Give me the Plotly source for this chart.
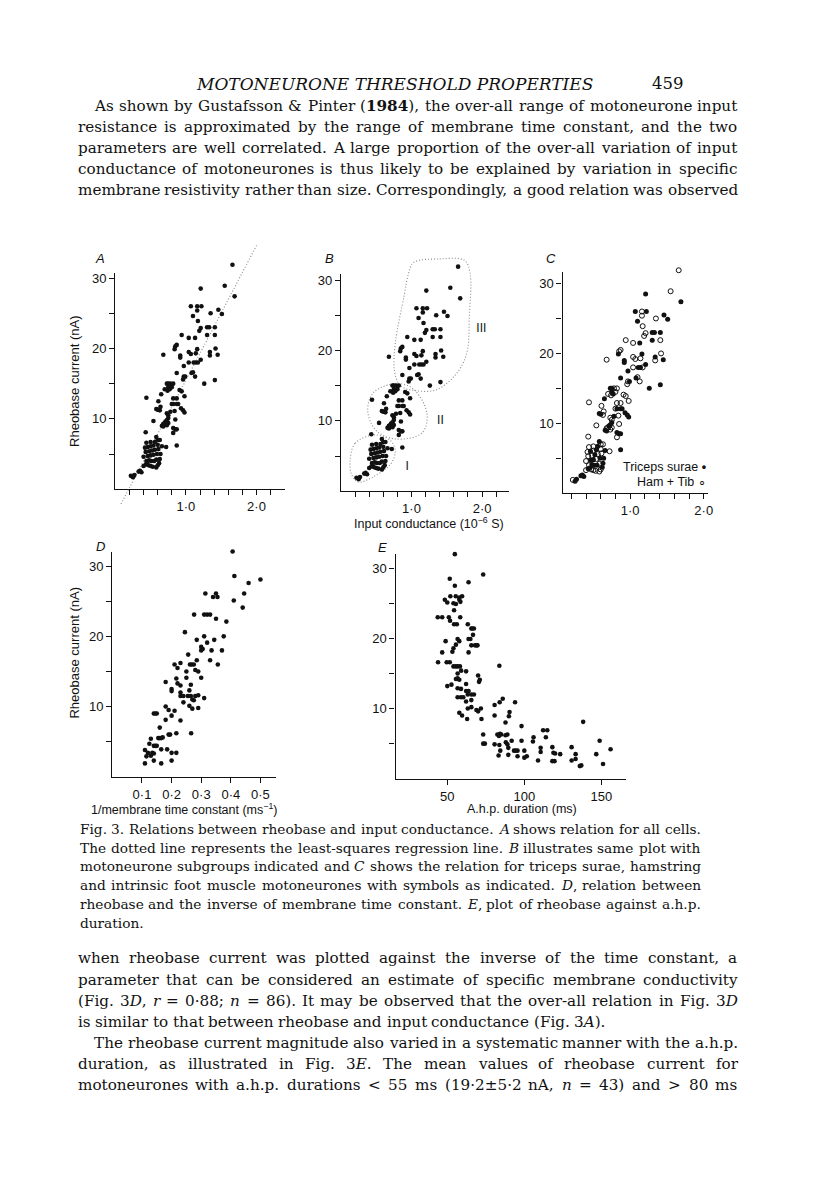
import glob
import re
import struct

import plotly.graph_objects as go

W, H = 816, 1203
OFF = 8  # default page margin of the html body

# ---------------- data: panels A, B, C (same cells) ----------------
# input conductance (10^-6 S), rheobase (nA), muscle group (1 = triceps surae, 0 = ham + tib)
cond = [1.66, 1.55, 1.69, 1.21, 1.07, 1.16, 1.22, 1.16, 1.10, 1.17, 1.35, 1.46, 1.51, 1.21, 1.30, 1.33,
        1.41, 1.19, 0.94, 1.04, 1.13, 1.30, 1.41, 1.42, 0.85, 0.87, 0.84, 1.04, 1.16, 1.14, 1.07, 1.34,
        1.34, 1.45, 0.68, 0.92, 0.92, 1.21, 1.04, 1.11, 1.14, 1.17, 0.97, 0.87, 1.10, 1.08, 1.13, 0.96,
        0.97, 0.99, 1.26, 1.41,
        0.73, 0.75, 0.78, 0.82, 0.75, 0.77, 0.80, 0.74, 0.70, 0.65, 0.91, 0.94, 0.98, 0.44, 0.61, 0.82,
        0.87, 0.82, 0.87, 0.89, 0.80, 0.93, 0.96, 0.98, 0.58, 0.60, 0.64, 0.63, 0.84, 0.78, 0.73, 0.54,
        0.75, 0.75, 0.85, 0.73, 0.71, 0.75, 0.70, 0.73, 0.66, 0.68, 0.68, 0.82, 0.85, 0.87, 0.82,
        0.22, 0.25, 0.27, 0.33, 0.35, 0.37, 0.40, 0.43, 0.45, 0.47, 0.50, 0.53, 0.58, 0.60, 0.62, 0.44,
        0.48, 0.51, 0.55, 0.58, 0.63, 0.40, 0.46, 0.50, 0.54, 0.59, 0.64, 0.43, 0.48, 0.52, 0.56, 0.61,
        0.42, 0.46, 0.50, 0.54, 0.60, 0.66, 0.44, 0.50, 0.56, 0.60, 0.63, 0.58, 0.43, 0.72, 0.87]
rheo = [31.9, 28.9, 27.4, 28.5, 26.0, 26.0, 26.0, 25.4, 24.6, 23.9, 25.0, 25.5, 24.9, 22.9, 23.0, 23.0,
        23.0, 22.5, 21.9, 21.5, 21.5, 21.9, 21.9, 20.0, 20.3, 20.5, 19.9, 19.5, 19.9, 19.3, 19.2, 19.5,
        19.0, 19.1, 19.1, 19.0, 18.7, 18.4, 18.0, 18.0, 18.0, 18.0, 17.5, 16.5, 16.6, 16.5, 16.0, 15.6,
        16.0, 16.0, 15.0, 15.5,
        15.0, 15.0, 15.0, 15.0, 14.5, 14.2, 14.5, 14.0, 14.2, 13.5, 14.1, 13.9, 13.2, 13.0, 12.5, 12.9,
        12.9, 12.1, 12.1, 12.1, 12.1, 11.5, 11.2, 10.9, 11.4, 11.3, 11.7, 11.2, 11.1, 11.0, 10.8, 9.7,
        10.5, 10.1, 9.9, 9.8, 9.6, 9.4, 9.4, 9.1, 9.0, 8.9, 9.3, 8.7, 8.5, 8.5, 8.0,
        1.9, 1.7, 2.0, 2.5, 2.6, 2.4, 3.3, 3.5, 3.6, 3.4, 3.3, 3.2, 3.1, 3.4, 3.7, 4.0,
        4.1, 4.0, 4.0, 4.2, 4.3, 4.6, 4.7, 4.8, 4.9, 5.0, 5.0, 5.3, 5.4, 5.5, 5.6, 5.7,
        5.9, 6.0, 6.1, 6.2, 6.3, 6.1, 6.6, 6.7, 6.7, 7.0, 7.0, 7.4, 8.1, 6.0, 6.2]
muscle = [0, 0, 1, 1, 1, 0, 1, 0, 1, 0, 0, 1, 1, 0, 1, 1,
          1, 0, 0, 0, 1, 1, 0, 0, 0, 0, 1, 0, 1, 0, 0, 1,
          0, 1, 0, 1, 1, 1, 0, 1, 1, 0, 1, 1, 0, 1, 0, 0,
          0, 1, 1, 1,
          1, 1, 0, 0, 1, 1, 0, 0, 0, 1, 0, 0, 0, 0, 0, 0,
          0, 1, 1, 1, 0, 1, 1, 1, 1, 1, 0, 0, 0, 1, 0, 0,
          0, 1, 0, 1, 1, 0, 0, 0, 1, 1, 0, 1, 1, 1, 0,
          0, 1, 1, 1, 1, 1, 0, 1, 1, 0, 0, 0, 0, 0, 1, 0,
          1, 1, 1, 0, 1, 0, 1, 1, 0, 1, 1, 0, 0, 1, 0, 0,
          0, 1, 0, 1, 0, 1, 0, 0, 1, 0, 0, 1, 0, 0, 1]

# least-squares regression line (end points)
reg_x = [0.08, 2.01]
reg_y = [-2.1, 34.8]

# subgroup outlines in panel B
grp1_x = [0.13, 0.20, 0.48, 0.70, 0.77, 0.70, 0.45, 0.24, 0.15, 0.13]
grp1_y = [4.3, 6.8, 8.0, 7.2, 5.7, 3.8, 2.0, 1.3, 2.4, 4.3]
grp2_x = [0.38, 0.46, 0.79, 1.03, 1.22, 1.15, 0.79, 0.50, 0.38]
grp2_y = [11.4, 14.0, 15.3, 14.5, 11.0, 8.3, 7.4, 8.6, 11.4]
grp3_x = [1.03, 1.40, 1.75, 1.83, 1.82, 1.78, 1.62, 1.35, 1.05, 0.84, 0.76, 0.77, 0.90, 0.96, 1.03]
grp3_y = [32.5, 33.0, 32.8, 31.0, 25.0, 19.5, 16.5, 14.4, 14.3, 15.0, 17.0, 21.0, 28.0, 31.0, 32.5]
grp_labels = ["I", "II", "III"]
grp_label_x = [0.94, 1.41, 1.99]
grp_label_y = [3.4, 10.0, 23.1]

# ---------------- data: panel D ----------------
tau_inv = [0.406, 0.412, 0.46, 0.50, 0.314, 0.35, 0.34, 0.355, 0.41, 0.445, 0.44, 0.276, 0.31, 0.32, 0.33,
           0.35, 0.385, 0.245, 0.285, 0.344, 0.376, 0.31, 0.32, 0.30, 0.305, 0.30, 0.335, 0.37, 0.356,
           0.33, 0.21, 0.23, 0.256, 0.262, 0.268, 0.275, 0.285, 0.22, 0.25, 0.28, 0.29, 0.25, 0.216,
           0.30, 0.18, 0.22, 0.23, 0.20, 0.20, 0.265, 0.23, 0.26, 0.23, 0.24, 0.255, 0.265, 0.28, 0.29,
           0.31, 0.27, 0.275, 0.24, 0.26, 0.27, 0.29, 0.18, 0.19, 0.21, 0.14, 0.145, 0.15, 0.20, 0.18,
           0.23, 0.16, 0.266, 0.216, 0.19, 0.195, 0.155, 0.16, 0.165, 0.13, 0.17, 0.125, 0.14, 0.145,
           0.15, 0.11, 0.12, 0.135, 0.14, 0.13, 0.115, 0.165, 0.185, 0.20, 0.216, 0.14, 0.11, 0.165, 0.20]
rheo_d = [32.1, 28.6, 27.6, 28.1, 26.1, 26.1, 25.6, 25.6, 25.1, 26.1, 24.1, 23.1, 23.1, 23.1, 23.1,
          22.5, 22.1, 20.6, 19.5, 19.5, 20.0, 20.0, 19.1, 18.5, 18.2, 18.0, 18.0, 18.0, 16.0,
          16.6, 16.0, 16.2, 17.4, 16.0, 16.0, 16.0, 16.6, 15.5, 15.0, 15.2, 15.0, 14.1, 14.0,
          14.1, 13.5, 13.3, 13.0, 12.5, 12.2, 13.1, 12.0, 12.3, 11.5, 11.5, 11.5, 11.5, 11.5, 11.6,
          11.2, 11.0, 10.9, 10.6, 10.1, 9.7, 9.8, 10.0, 9.5, 9.4, 9.0, 9.0, 9.0, 8.7, 8.1,
          8.0, 7.0, 6.2, 6.2, 6.0, 6.0, 5.5, 5.5, 5.5, 5.4, 5.6, 4.7, 4.4, 4.4,
          4.4, 3.8, 3.4, 3.4, 3.3, 3.0, 2.9, 3.9, 3.9, 3.4, 3.4, 2.3, 1.9, 1.9, 2.3]

# ---------------- data: panel E ----------------
ahp = [54.9, 51.6, 63.8, 73.3, 54.9, 52.0, 55.5, 57.8, 59.6, 48.4, 50.0, 54.0, 55.6, 57.8, 58.5, 54.4,
       43.8, 46.7, 51.0, 51.8, 54.4, 56.2, 58.4, 63.3, 65.6, 66.2, 67.3, 66.7, 63.8, 65.0, 48.9, 56.7,
       57.8, 55.6, 54.0, 65.6, 68.0, 68.9, 69.6, 53.3, 63.8, 46.7, 44.0, 49.6, 51.6, 54.0, 55.5, 56.7,
       58.2, 83.8, 56.7, 62.2, 59.0, 56.7, 55.6, 57.8, 70.0, 71.1, 70.6, 62.2, 50.0, 52.7, 56.7, 58.9,
       62.2, 63.8, 63.3, 65.6, 67.3, 58.9, 60.4, 56.7, 62.2, 65.6, 65.6, 68.9, 70.0, 63.3, 71.8, 57.8,
       59.6, 62.9, 72.2, 80.7, 80.7, 84.0, 86.0, 94.0, 90.4, 90.0, 87.8, 73.3, 74.4, 73.3, 82.5, 83.5,
       84.2, 85.0, 87.8, 89.0, 80.7, 83.8, 88.0, 89.0, 84.4, 83.3, 89.6, 89.6, 91.8, 93.3, 94.4, 95.6,
       95.6, 98.2, 98.2, 100.0, 100.0, 101.6, 106.0, 105.6, 108.9, 112.2, 114.9, 114.0, 110.6, 110.6,
       118.2, 118.9, 120.0, 118.2, 119.6, 123.3, 130.7, 130.7, 133.3, 133.3, 138.2, 136.0, 137.0,
       146.7, 148.9, 151.1, 156.0]
rheo_e = [32.0, 28.5, 28.0, 29.1, 27.5, 26.0, 26.0, 25.8, 26.0, 25.5, 25.1, 25.0, 24.9, 25.5, 25.2, 24.0,
          23.0, 23.0, 23.0, 22.5, 22.0, 22.0, 23.0, 22.0, 21.4, 21.4, 21.4, 20.5, 19.9, 19.9, 19.6, 19.9,
          19.6, 19.1, 18.6, 19.0, 19.0, 19.0, 19.0, 18.1, 18.0, 18.0, 16.6, 16.6, 16.6, 16.0, 16.0, 16.0,
          16.0, 16.1, 15.0, 15.3, 15.4, 14.3, 14.2, 14.1, 14.7, 14.1, 13.8, 13.5, 13.2, 13.4, 12.9, 12.8,
          12.5, 12.5, 12.0, 12.0, 12.0, 11.6, 11.6, 11.6, 11.0, 11.2, 10.2, 9.8, 9.6, 10.0, 10.0, 9.4,
          9.0, 8.5, 8.5, 10.5, 9.0, 10.9, 11.4, 10.9, 9.5, 8.9, 8.0, 6.3, 5.0, 5.0, 6.3, 6.1,
          6.4, 6.3, 6.2, 6.3, 4.9, 4.8, 5.2, 4.9, 4.0, 3.3, 4.4, 3.4, 5.4, 4.0, 4.0, 4.0,
          3.2, 7.5, 5.4, 4.0, 3.0, 3.2, 5.9, 5.3, 2.6, 6.9, 6.9, 5.9, 4.4, 3.8,
          4.5, 3.7, 3.6, 2.5, 2.5, 3.5, 4.5, 2.6, 2.8, 3.5, 8.1, 1.8, 1.9,
          3.5, 5.4, 2.1, 4.2]

# ---------------- tick labels ----------------
cond_ticks = [0.2, 0.4, 0.6, 0.8, 1.0, 1.2, 1.4, 1.6, 1.8, 2.0, 2.2]
cond_ticktext = ["", "", "", "", "1·0", "", "", "", "", "2·0", ""]
cond_ticks_c = [0.2, 0.4, 0.6, 0.8, 1.0, 1.2, 1.4, 1.6, 1.8, 2.0]
cond_ticktext_c = ["", "", "", "", "1·0", "", "", "", "", "2·0"]
rheo_ticks = [5, 10, 15, 20, 25, 30]
rheo_ticktext = ["", "10", "", "20", "", "30"]
tau_ticks = [0.1, 0.2, 0.3, 0.4, 0.5]
tau_ticktext = ["0·1", "0·2", "0·3", "0·4", "0·5"]
ahp_ticks = [50, 100, 150]
ahp_ticktext = ["50", "100", "150"]

# ---------------- page text ----------------
title_text = "<i>MOTONEURONE THRESHOLD PROPERTIES</i>"
page_number = "459"
para1 = ["As shown by Gustafsson &amp; Pinter (<b>1984</b>), the over-all range of motoneurone input",
         "resistance is approximated by the range of membrane time constant, and the two",
         "parameters are well correlated. A large proportion of the over-all variation of input",
         "conductance of motoneurones is thus likely to be explained by variation in specific",
         "membrane resistivity rather than size. Correspondingly, a good relation was observed"]
caption = ["Fig. 3. Relations between rheobase and input conductance. <i>A</i> shows relation for all cells.",
           "The dotted line represents the least-squares regression line. <i>B</i> illustrates same plot with",
           "motoneurone subgroups indicated and <i>C</i> shows the relation for triceps surae, hamstring",
           "and intrinsic foot muscle motoneurones with symbols as indicated. <i>D</i>, relation between",
           "rheobase and the inverse of membrane time constant. <i>E</i>, plot of rheobase against a.h.p.",
           "duration."]
para2 = ["when rheobase current was plotted against the inverse of the time constant, a",
         "parameter that can be considered an estimate of specific membrane conductivity",
         "(Fig. 3<i>D</i>, <i>r</i> = 0·88; <i>n</i> = 86). It may be observed that the over-all relation in Fig. 3<i>D</i>",
         "is similar to that between rheobase and input conductance (Fig. 3<i>A</i>).",
         "The rheobase current magnitude also varied in a systematic manner with the a.h.p.",
         "duration, as illustrated in Fig. 3<i>E</i>. The mean values of rheobase current for",
         "motoneurones with a.h.p. durations &lt; 55 ms (19·2±5·2 nA, <i>n</i> = 43) and &gt; 80 ms"]

SANS = "Liberation Sans"
SERIF = "DejaVu Serif"


# ---------------- font metrics (for justified text lines) ----------------
def load_advance(path):
    data = open(path, "rb").read()
    num_tables = struct.unpack(">H", data[4:6])[0]
    tables = {}
    for i in range(num_tables):
        tag, _, off, ln = struct.unpack(">4sIII", data[12 + 16 * i: 28 + 16 * i])
        tables[tag.decode("latin1")] = off
    upem = struct.unpack(">H", data[tables["head"] + 18: tables["head"] + 20])[0]
    num_hm = struct.unpack(">H", data[tables["hhea"] + 34: tables["hhea"] + 36])[0]
    hm = tables["hmtx"]
    adv = [struct.unpack(">H", data[hm + 4 * i: hm + 4 * i + 2])[0] for i in range(num_hm)]
    cm = tables["cmap"]
    n = struct.unpack(">H", data[cm + 2: cm + 4])[0]
    sub = None
    for i in range(n):
        pid, eid, off = struct.unpack(">HHI", data[cm + 4 + 8 * i: cm + 12 + 8 * i])
        fmt = struct.unpack(">H", data[cm + off: cm + off + 2])[0]
        if pid == 3 and eid == 1 and fmt == 4:
            sub = cm + off
    seg2 = struct.unpack(">H", data[sub + 6: sub + 8])[0]
    seg = seg2 // 2
    ends = struct.unpack(">%dH" % seg, data[sub + 14: sub + 14 + seg2])
    starts = struct.unpack(">%dH" % seg, data[sub + 16 + seg2: sub + 16 + 2 * seg2])
    deltas = struct.unpack(">%dh" % seg, data[sub + 16 + 2 * seg2: sub + 16 + 3 * seg2])
    rpos = sub + 16 + 3 * seg2
    roffs = struct.unpack(">%dH" % seg, data[rpos: rpos + seg2])

    def glyph(c):
        for i in range(seg):
            if ends[i] >= c:
                if starts[i] > c:
                    return 0
                if roffs[i] == 0:
                    return (c + deltas[i]) & 0xFFFF
                addr = rpos + 2 * i + roffs[i] + 2 * (c - starts[i])
                g = struct.unpack(">H", data[addr: addr + 2])[0]
                return (g + deltas[i]) & 0xFFFF if g else 0
        return 0

    def advance(ch):
        g = glyph(ord(ch))
        return adv[min(g, num_hm - 1)] / upem
    return advance


def find_font(name):
    for pat in ["/usr/share/fonts/**/" + name, "/usr/local/share/fonts/**/" + name, "/root/.fonts/**/" + name]:
        hits = glob.glob(pat, recursive=True)
        if hits:
            return hits[0]
    return None


METRICS = {}
try:
    reg = find_font("DejaVuSerif.ttf")
    if reg:
        METRICS["r"] = load_advance(reg)
        for key, nm in [("i", "DejaVuSerif-Italic.ttf"), ("b", "DejaVuSerif-Bold.ttf")]:
            p = find_font(nm)
            METRICS[key] = load_advance(p) if p else METRICS["r"]
except Exception:
    METRICS = {}


def measure(word, size):
    italic = bold = False
    total = 0.0
    for part in re.split(r"(<[^>]+>)", word):
        if part.startswith("<"):
            t = part.lower()
            if t == "<i>":
                italic = True
            elif t == "</i>":
                italic = False
            elif t == "<b>":
                bold = True
            elif t == "</b>":
                bold = False
            continue
        part = part.replace("&amp;", "&").replace("&lt;", "<").replace("&gt;", ">")
        f = METRICS["i"] if italic else (METRICS["b"] if bold else METRICS["r"])
        total += sum(f(ch) for ch in part)
    return total * size


# ---------------- geometry helpers (pixel boxes, calibration) ----------------
def px_x(p):
    return (p - OFF) / W


def px_y(p):
    return 1 - (p - OFF) / H


def box(x0px, ppux, y0px, ppuy, left, right, top, bottom):
    dx = [px_x(left), px_x(right)]
    rx = [(left - x0px) / ppux, (right - x0px) / ppux]
    dy = [px_y(bottom), px_y(top)]
    ry = [(y0px - bottom) / ppuy, (y0px - top) / ppuy]
    return dx, rx, dy, ry


def main_axes(dx, rx, dy, ry, tv, tt, ytv, ytt, xid, yid):
    tf = dict(family=SANS, size=13, color="#111")
    common = dict(showline=True, linecolor="#111", linewidth=1.4, ticks="outside", ticklen=5,
                  tickwidth=1, tickcolor="#111", showgrid=False, zeroline=False, tickfont=tf,
                  fixedrange=True)
    xa = dict(domain=dx, range=rx, tickvals=tv, ticktext=tt, anchor=yid, **common)
    ya = dict(domain=dy, range=ry, tickvals=ytv, ticktext=ytt, anchor=xid, **common)
    return xa, ya


def hidden_axes(dx, rx, dy, ry, xid, yid):
    xa = dict(domain=dx, range=rx, visible=False, fixedrange=True, anchor=yid)
    ya = dict(domain=dy, range=ry, visible=False, fixedrange=True, anchor=xid)
    return xa, ya


layout = dict(width=W, height=H, margin=dict(l=0, r=0, t=0, b=0),
              paper_bgcolor="white", plot_bgcolor="rgba(0,0,0,0)", showlegend=False)

panels = [
    # calibration (x0 px, px per unit x, y0 px, px per unit y), axis box, data box, ticks
    dict(cal=(116, 71.0, 488, 7.05), axis=(116, 287, 271, 488), data=(95, 305, 235, 515),
         xt=(cond_ticks, cond_ticktext)),
    dict(cal=(343, 71.0, 490, 7.05), axis=(343, 512, 272, 490), data=(325, 535, 235, 505),
         xt=(cond_ticks, cond_ticktext)),
    dict(cal=(560, 74.0, 492, 7.0), axis=(566, 712, 270, 492), data=(550, 730, 240, 505),
         xt=(cond_ticks_c, cond_ticktext_c)),
    dict(cal=(113, 298.0, 776, 7.03), axis=(113, 278, 551, 776), data=(100, 300, 530, 790),
         xt=(tau_ticks, tau_ticktext)),
    dict(cal=(372.5, 1.55, 778, 7.03), axis=(398, 630, 553, 778), data=(385, 650, 530, 790),
         xt=(ahp_ticks, ahp_ticktext)),
]
main_ids = []
for k, p in enumerate(panels):
    n_main, n_data = k + 1, k + 6
    sm = "" if n_main == 1 else str(n_main)
    dx, rx, dy, ry = box(*p["cal"], *p["axis"])
    layout["xaxis" + sm], layout["yaxis" + sm] = main_axes(dx, rx, dy, ry, p["xt"][0], p["xt"][1],
                                                         rheo_ticks, rheo_ticktext, "x" + sm, "y" + sm)
    main_ids.append(("x" + sm, "y" + sm))
    dx, rx, dy, ry = box(*p["cal"], *p["data"])
    layout["xaxis%d" % n_data], layout["yaxis%d" % n_data] = hidden_axes(dx, rx, dy, ry, "x%d" % n_data, "y%d" % n_data)

fig = go.Figure(layout=layout)

# empty traces so that every visible axis pair is drawn
for xid, yid in main_ids:
    fig.add_trace(go.Scatter(x=[None], y=[None], mode="markers", xaxis=xid, yaxis=yid,
                             hoverinfo="skip", marker=dict(opacity=0)))

dot = dict(color="#111", size=4.6)
dotted = dict(color="#8a8a8a", width=1.1, dash="1px,2px")

# A
fig.add_trace(go.Scatter(x=reg_x, y=reg_y, mode="lines", xaxis="x6", yaxis="y6", line=dotted, hoverinfo="skip"))
fig.add_trace(go.Scatter(x=cond, y=rheo, mode="markers", xaxis="x6", yaxis="y6", marker=dot))
# B
for gx, gy in [(grp1_x, grp1_y), (grp2_x, grp2_y), (grp3_x, grp3_y)]:
    fig.add_trace(go.Scatter(x=gx, y=gy, mode="lines", xaxis="x7", yaxis="y7",
                             line=dict(dotted, shape="spline", smoothing=1.0), hoverinfo="skip"))
fig.add_trace(go.Scatter(x=cond, y=rheo, mode="markers", xaxis="x7", yaxis="y7", marker=dot))
fig.add_trace(go.Scatter(x=grp_label_x, y=grp_label_y, mode="text", text=grp_labels, xaxis="x7", yaxis="y7",
                         textfont=dict(family=SANS, size=12, color="#111"), hoverinfo="skip"))
# C
ts_x = [c for c, m in zip(cond, muscle) if m == 1]
ts_y = [r for r, m in zip(rheo, muscle) if m == 1]
ht_x = [c for c, m in zip(cond, muscle) if m == 0]
ht_y = [r for r, m in zip(rheo, muscle) if m == 0]
fig.add_trace(go.Scatter(x=ht_x, y=ht_y, mode="markers", xaxis="x8", yaxis="y8",
                         marker=dict(symbol="circle-open", color="#111", size=5, line=dict(width=1, color="#111"))))
fig.add_trace(go.Scatter(x=ts_x, y=ts_y, mode="markers", xaxis="x8", yaxis="y8",
                         marker=dict(color="#111", size=5)))
# D
fig.add_trace(go.Scatter(x=tau_inv, y=rheo_d, mode="markers", xaxis="x9", yaxis="y9", marker=dot))
# E
fig.add_trace(go.Scatter(x=ahp, y=rheo_e, mode="markers", xaxis="x10", yaxis="y10", marker=dot))


# ---------------- text ----------------
def txt(s, x, y, size, family=SERIF, xanchor="left", yanchor="middle", angle=0, color="#111"):
    fig.add_annotation(text=s, x=px_x(x), y=px_y(y), xref="paper", yref="paper", showarrow=False,
                       xanchor=xanchor, yanchor=yanchor, textangle=angle, borderpad=0, borderwidth=0,
                       font=dict(family=family, size=size, color=color))


def text_line(line, left, right, y, size, justify=True):
    if not METRICS:
        txt(line, left, y, size)
        return
    words = line.split(" ")
    widths = [measure(w, size) for w in words]
    space = measure(" ", size)
    if justify and len(words) > 1:
        gap = (right - left - sum(widths)) / (len(words) - 1)
        gap = max(gap, space * 0.6)
    else:
        gap = space
    x = left
    for w, wd in zip(words, widths):
        txt(w, x, y, size)
        x += wd + gap


txt(title_text, 397, 82, 17, xanchor="center")
txt(page_number, 672, 82, 16.5, xanchor="center")

BODY = 15.2
for i, line in enumerate(para1):
    text_line(line, 95 if i == 0 else 78, 742, 104 + 21 * i, BODY)

for i, line in enumerate(caption):
    text_line(line, 80, 705, 828 + 18.9 * i, 13.7, justify=(i < len(caption) - 1))

for i, line in enumerate(para2):
    text_line(line, 95 if i == 4 else 78, 742, 958 + 21.2 * i, BODY, justify=(i != 3))

# panel letters and axis titles
txt("<i>A</i>", 101, 257, 13, family=SANS, xanchor="center")
txt("<i>B</i>", 331, 257, 13, family=SANS, xanchor="center")
txt("<i>C</i>", 554, 257, 13, family=SANS, xanchor="center")
txt("<i>D</i>", 101, 545, 13, family=SANS, xanchor="center")
txt("<i>E</i>", 385, 546, 13, family=SANS, xanchor="center")
txt("Rheobase current (nA)", 75, 380, 13, family=SANS, xanchor="center", angle=-90)
txt("Rheobase current (nA)", 75, 652, 13, family=SANS, xanchor="center", angle=-90)
txt("Input conductance (10<sup>−6</sup> S)", 432, 522, 12.5, family=SANS, xanchor="center")
txt("1/membrane time constant (ms<sup>−1</sup>)", 185, 808, 12.5, family=SANS, xanchor="center")
txt("A.h.p. duration (ms)", 525, 808, 12.5, family=SANS, xanchor="center")
txt("Triceps surae <b>•</b>", 710, 466, 12.5, family=SANS, xanchor="right")
txt("Ham + Tib ∘", 710, 481, 12.5, family=SANS, xanchor="right")

fig.write_html("out.html")
